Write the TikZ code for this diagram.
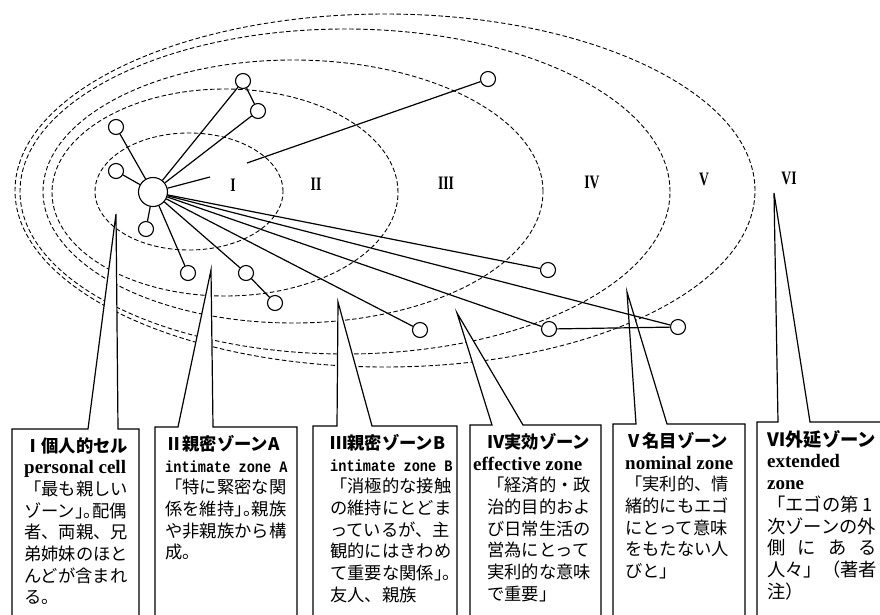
\documentclass[tikz,border=0pt]{standalone}
\usepackage{fontspec}
\usepackage{graphicx}
\setmainfont{Noto Sans CJK JP}
\newfontfamily\jp{Noto Sans CJK JP}
\newfontfamily\jph[RawFeature=+halt]{Noto Sans CJK JP}
\newfontfamily\ens{Liberation Serif}
\newfontfamily\enm{Liberation Mono}
\newcommand\hw[1]{{\jph #1}}
\newcommand\zn[1]{\scalebox{0.72}[1]{#1}}
\newcommand\eng[1]{{\ens\bfseries\fontsize{19}{21.7}\selectfont #1}}
\newcommand\engm[1]{\scalebox{0.85}[1]{\enm\bfseries\fontsize{16}{21.7}\selectfont #1}}
\begin{document}
\begin{tikzpicture}[x=1pt,y=-1pt,
  zone/.style={draw, dash pattern=on 4.5pt off 2.5pt, line width=0.9pt},
  pers/.style={circle, draw, fill=white, line width=1.1pt, minimum size=15pt, inner sep=0pt},
  egonode/.style={pers, minimum size=29pt},
  tie/.style={line width=1.2pt},
  callout/.style={draw, fill=white, line width=1.2pt, line join=miter},
  boxtext/.style={anchor=north west, inner sep=0pt, align=left, font=\jp\fontsize{17.3}{21.7}\selectfont},
  numeral/.style={font=\ens\bfseries\fontsize{19}{19}\selectfont, inner sep=0pt}]
\useasboundingbox (0,0) rectangle (880,614);
\fill[white] (0,0) rectangle (880,614);

% zone boundaries
\draw[zone] (189,191.5) ellipse [x radius=94pt, y radius=58.5pt];
\draw[zone] (225,192.5) ellipse [x radius=173pt, y radius=103.5pt];
\draw[zone] (293,191.5) ellipse [x radius=250pt, y radius=131.5pt];
\draw[zone] (345,191.5) ellipse [x radius=325pt, y radius=162.5pt];
\draw[zone] (385,190.5) ellipse [x radius=370pt, y radius=176.5pt];

% zone numerals
\node[numeral] (nI) at (233,185) {\zn{I}};
\node[numeral] (nII) at (316,184) {\zn{II}};
\node[numeral] (nIII) at (446,183) {\zn{III}};
\node[numeral] (nIV) at (592,182) {\zn{IV}};
\node[numeral] (nV) at (704,179) {\zn{V}};
\node[numeral] (nVI) at (789,178) {\zn{VI}};

% callout boxes with wedges
\filldraw[callout] (12,620) -- (12,429) -- (88,429) -- (116,214) -- (118,429) -- (139,429) -- (139,620) -- cycle;
\filldraw[callout] (155,620) -- (155,427) -- (178,427) -- (211,270) -- (213,427) -- (297,427) -- (297,620) -- cycle;
\filldraw[callout] (313,620) -- (313,426) -- (337,426) -- (338,302) -- (372,426) -- (457,426) -- (457,620) -- cycle;
\filldraw[callout] (470,620) -- (470,425) -- (492,425) -- (457,313) -- (523,425) -- (601,425) -- (601,620) -- cycle;
\filldraw[callout] (613,620) -- (613,424) -- (636,424) -- (627,292) -- (667,424) -- (745,424) -- (745,620) -- cycle;
\filldraw[callout] (757,620) -- (757,422) -- (778,422) -- (774,193) -- (810,422) -- (886,422) -- (886,620) -- cycle;

% persons
\node[egonode] (ego) at (153,192) {};
\node[pers] (p1) at (116,127) {};
\node[pers] (p2) at (116,171) {};
\node[pers] (p3) at (146,229) {};
\node[pers] (p4) at (188,273) {};
\node[pers] (p5) at (246,273) {};
\node[pers] (p6) at (275,303) {};
\node[pers] (p7) at (243,81) {};
\node[pers] (p8) at (258,111) {};
\node[pers] (p9) at (488,79) {};
\node[pers] (p10) at (548,270) {};
\node[pers] (p11) at (420,330) {};
\node[pers] (p12) at (549,329) {};
\node[pers] (p13) at (678,327) {};
\coordinate (c1) at (210,177);
\coordinate (c2) at (247,163);

\draw[tie] (ego) -- (p1);
\draw[tie] (ego) -- (p2);
\draw[tie] (ego) -- (p3);
\draw[tie] (ego) -- (p4);
\draw[tie] (ego) -- (p5);
\draw[tie] (p5) -- (p6);
\draw[tie] (ego) -- (p7);
\draw[tie] (ego) -- (p8);
\draw[tie] (p7) -- (p8);
\draw[tie] (ego) -- (c1);
\draw[tie] (c2) -- (p9);
\draw[tie] (ego) -- (p10);
\draw[tie] (ego) -- (p11);
\draw[tie] (ego) -- (p12);
\draw[tie] (ego) -- (p13);
\draw[tie] (p12) -- (p13);

% box texts
\node[boxtext] (t1) at (24,437) {{\bfseries Ⅰ個人的セル}\\
\eng{personal cell}\\
「最も親しい\\
ゾーン\hw{」。}配偶\\
者、両親、兄\\
弟姉妹のほと\\
んどが含まれ\\
る。};
\node[boxtext] (t2) at (165,435) {{\bfseries Ⅱ親密ゾーンA}\\
\engm{intimate zone A}\\
「特に緊密な関\\
係を維持\hw{」。}親族\\
や非親族から構\\
成。};
\node[boxtext] (t3) at (330,434) {{\bfseries Ⅲ親密ゾーンB}\\
\engm{intimate zone B}\\
「消極的な接触\\
の維持にとどま\\
っているが、主\\
観的にはきわめ\\
て重要な関係\hw{」。}\\
友人、親族};
\node[boxtext] (t4) at (487,433) {{\bfseries Ⅳ実効ゾーン}\\
\hspace*{-14pt}\eng{effective zone}\\
「経済的・政\\
治的目的およ\\
び日常生活の\\
営為にとって\\
実利的な意味\\
で重要」};
\node[boxtext] (t5) at (625,432) {{\bfseries Ⅴ名目ゾーン}\\
\eng{nominal zone}\\
「実利的、情\\
緒的にもエゴ\\
にとって意味\\
をもたない人\\
びと」};
\node[boxtext, font=\jp\fontsize{18.3}{21.7}\selectfont] (t6) at (767,430) {{\bfseries Ⅵ外延ゾーン}\\
\eng{extended}\\
\eng{zone}\\
「エゴの第 1\\
次ゾーンの外\\
\makebox[110pt][s]{側 に あ る}\\
人々」（著者\\
注）};
\end{tikzpicture}
\end{document}
